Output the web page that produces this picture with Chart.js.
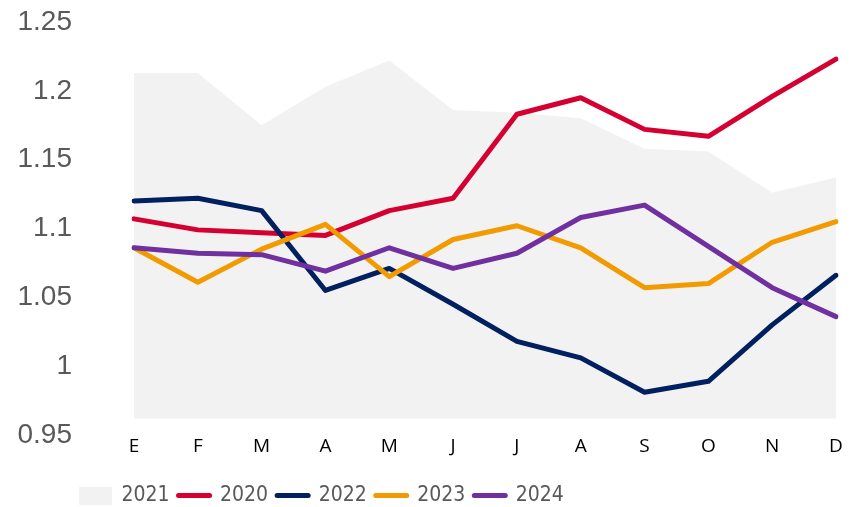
<!DOCTYPE html>
<html>
<head>
<meta charset="utf-8">
<script src="https://cdn.jsdelivr.net/npm/chart.js@4/dist/chart.umd.min.js"></script>
<style>
  html, body { margin: 0; padding: 0; background: #ffffff; }
  #wrap { width: 860px; height: 507px; position: relative; }
</style>
</head>
<body>
<div id="wrap"><canvas id="c"></canvas></div>
<script>
// Month initials (Spanish)
const months = ['E', 'F', 'M', 'A', 'M', 'J', 'J', 'A', 'S', 'O', 'N', 'D'];

// Monthly values per year
const y2021 = [1.213, 1.213, 1.175, 1.203, 1.222, 1.186, 1.184, 1.180, 1.158, 1.156, 1.126, 1.137];
const y2020 = [1.107, 1.099, 1.097, 1.095, 1.113, 1.122, 1.183, 1.195, 1.172, 1.167, 1.196, 1.223];
const y2022 = [1.120, 1.122, 1.113, 1.055, 1.071, 1.045, 1.018, 1.006, 0.981, 0.989, 1.030, 1.066];
const y2023 = [1.086, 1.061, 1.085, 1.103, 1.065, 1.092, 1.102, 1.086, 1.057, 1.060, 1.090, 1.105];
const y2024 = [1.086, 1.082, 1.081, 1.069, 1.086, 1.071, 1.082, 1.108, 1.117, 1.087, 1.057, 1.036];

// Axis range
const yMin = 0.95, yMax = 1.25, yStep = 0.05;
const areaBase = 0.962;

const grey = '#595959';

// small filled swatch used as the legend marker of the area series
const swatch = document.createElement('canvas');
swatch.width = 33; swatch.height = 18;
(function () { const g = swatch.getContext('2d'); g.fillStyle = '#F2F2F2'; g.fillRect(0, 0, 33, 18); })();

function lineSet(label, data, color, order) {
  return {
    label, data, order,
    borderColor: color, backgroundColor: color,
    borderWidth: 5, pointRadius: 0, pointHoverRadius: 0,
    tension: 0, fill: false,
    borderCapStyle: 'round', borderJoinStyle: 'round'
  };
}

// moves the legend row to the right by a fixed amount
const legendShift = {
  id: 'legendShift',
  afterLayout(chart, args, opts) {
    if (chart.legend) { chart.legend.left += opts.dx || 0; }
  }
};

new Chart(document.getElementById('c'), {
  type: 'line',
  data: {
    labels: months,
    datasets: [
      { label: '2021', data: y2021, order: 5, fill: { value: areaBase },
        backgroundColor: '#F2F2F2', borderWidth: 0, borderColor: 'rgba(0,0,0,0)',
        pointRadius: 0, pointHoverRadius: 0, tension: 0 },
      lineSet('2020', y2020, '#D50032', 4),
      lineSet('2022', y2022, '#002060', 3),
      lineSet('2023', y2023, '#F29B00', 2),
      lineSet('2024', y2024, '#7030A0', 1)
    ]
  },
  plugins: [legendShift],
  options: {
    responsive: true,
    maintainAspectRatio: false,
    animation: false,
    events: [],
    layout: { autoPadding: false, padding: { left: 0, right: 24, top: 22, bottom: -9 } },
    scales: {
      x: {
        offset: false,
        afterFit: s => { s.height = 41; },
        grid: { display: false, drawTicks: false },
        border: { display: false },
        ticks: {
          color: '#000000', padding: 0, maxRotation: 0, autoSkip: false,
          font: { family: "'Open Sans', sans-serif", size: 19 }
        }
      },
      y: {
        min: yMin, max: yMax,
        afterFit: s => { s.width = 134; s.paddingTop = 0; s.paddingBottom = 0; },
        grid: { display: false, drawTicks: false },
        border: { display: false },
        ticks: {
          stepSize: yStep, color: grey, padding: 62,
          font: { family: "'Liberation Sans', sans-serif", size: 28 },
          callback: v => String(+v.toFixed(2))
        }
      }
    },
    plugins: {
      tooltip: { enabled: false },
      legendShift: { dx: 71 },
      legend: {
        position: 'bottom',
        align: 'start',
        labels: {
          usePointStyle: true,
          pointStyleWidth: 31,
          padding: 9,
          color: grey,
          font: { family: "'DejaVu Sans Condensed', sans-serif", size: 21 },
          generateLabels(chart) {
            const items = Chart.defaults.plugins.legend.labels.generateLabels(chart);
            items.forEach(it => {
              const ds = chart.data.datasets[it.datasetIndex];
              if (ds.fill) {
                it.pointStyle = swatch;
              } else {
                it.pointStyle = 'line';
                it.lineWidth = 5;
                it.lineCap = 'round';
                it.strokeStyle = ds.borderColor;
              }
            });
            return items.sort((a, b) => a.datasetIndex - b.datasetIndex);
          }
        }
      }
    }
  }
});
</script>
</body>
</html>
